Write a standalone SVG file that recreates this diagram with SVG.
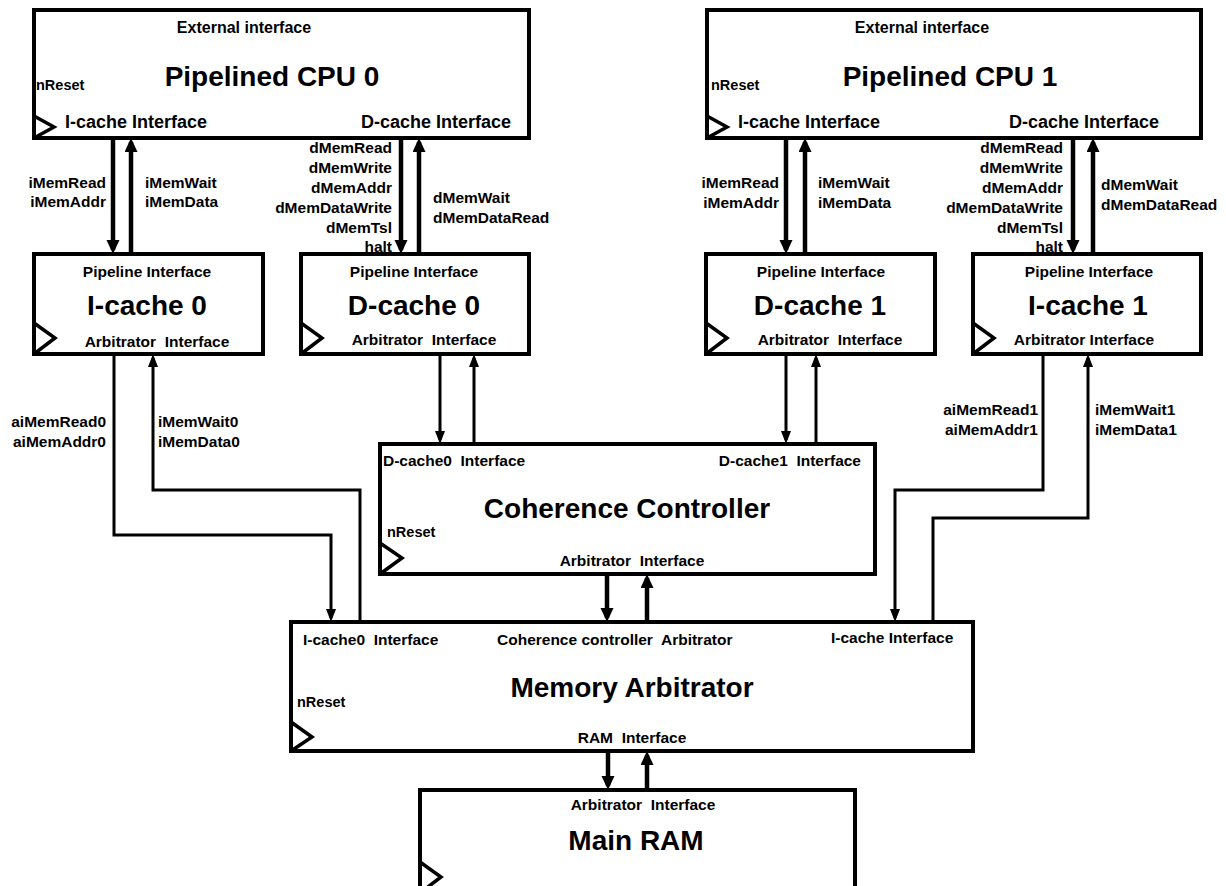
<svg xmlns="http://www.w3.org/2000/svg" width="1226" height="886" viewBox="0 0 1226 886">
<style>
.box{fill:#fff;stroke:#000;stroke-width:4}
.clk{fill:none;stroke:#000;stroke-width:3.5;stroke-linejoin:miter}
text{font-family:"Liberation Sans",Arial,sans-serif;font-weight:bold;fill:#000;white-space:pre}
.s{font-size:15.5px}
.m{font-size:18px}
.e{font-size:16px}
.n{font-size:14.5px}
.big{font-size:28px}
.mid{text-anchor:middle}
.end{text-anchor:end}
.thick{fill:none;stroke:#000;stroke-width:4.5}
.thin{fill:none;stroke:#000;stroke-width:3}
</style>
<defs>
<marker id="ab" markerUnits="userSpaceOnUse" markerWidth="16" markerHeight="16" refX="10" refY="6.5" orient="auto"><path d="M0,0 L14,6.5 L0,13 z" fill="#000"/></marker>
<marker id="as" markerUnits="userSpaceOnUse" markerWidth="16" markerHeight="16" refX="9" refY="5" orient="auto"><path d="M0,0 L13,5 L0,10 z" fill="#000"/></marker>
</defs>

<g id="cpu0">
<rect class="box" x="34" y="10" width="495" height="128"/>
<polyline class="clk" points="34,116 54,127 34,138"/>
<text class="e mid" x="244" y="33">External interface</text>
<text class="big mid" x="272" y="86">Pipelined CPU 0</text>
<text class="n" x="36" y="90">nReset</text>
<text class="m" x="65" y="128">I-cache Interface</text>
<text class="m end" x="511" y="128">D-cache Interface</text>
</g>

<g id="cpu1">
<rect class="box" x="707" y="10" width="494" height="128"/>
<polyline class="clk" points="707,116 727,127 707,138"/>
<text class="e mid" x="922" y="33">External interface</text>
<text class="big mid" x="950" y="86">Pipelined CPU 1</text>
<text class="n" x="711" y="90">nReset</text>
<text class="m" x="738" y="128">I-cache Interface</text>
<text class="m end" x="1159" y="128">D-cache Interface</text>
</g>

<g id="icache0">
<rect class="box" x="34" y="254" width="229" height="100"/>
<polyline class="clk" points="34,323 55,338 34,354"/>
<text class="s mid" x="147" y="277">Pipeline Interface</text>
<text class="big mid" x="147" y="315">I-cache 0</text>
<text class="s mid" x="157" y="347">Arbitrator  Interface</text>
</g>

<g id="dcache0">
<rect class="box" x="301" y="254" width="228" height="100"/>
<polyline class="clk" points="301,323 322,338 301,354"/>
<text class="s mid" x="414" y="277">Pipeline Interface</text>
<text class="big mid" x="414" y="315">D-cache 0</text>
<text class="s mid" x="424" y="345">Arbitrator  Interface</text>
</g>

<g id="dcache1">
<rect class="box" x="706" y="254" width="229" height="100"/>
<polyline class="clk" points="706,323 727,338 706,354"/>
<text class="s mid" x="821" y="277">Pipeline Interface</text>
<text class="big mid" x="820" y="315">D-cache 1</text>
<text class="s mid" x="830" y="345">Arbitrator  Interface</text>
</g>

<g id="icache1">
<rect class="box" x="973" y="254" width="228" height="100"/>
<polyline class="clk" points="973,323 994,338 973,354"/>
<text class="s mid" x="1089" y="277">Pipeline Interface</text>
<text class="big mid" x="1088" y="315">I-cache 1</text>
<text class="s mid" x="1084" y="345">Arbitrator Interface</text>
</g>

<g id="coherence">
<rect class="box" x="380" y="444" width="495" height="130"/>
<polyline class="clk" points="380,543 402,558 380,574"/>
<text class="s" x="383" y="466">D-cache0  Interface</text>
<text class="s end" x="861" y="466">D-cache1  Interface</text>
<text class="big mid" x="627" y="518">Coherence Controller</text>
<text class="n" x="387" y="537">nReset</text>
<text class="s mid" x="632" y="566">Arbitrator  Interface</text>
</g>

<g id="arbiter">
<rect class="box" x="291" y="622" width="682" height="129"/>
<polyline class="clk" points="291,722 312,737 291,751"/>
<text class="s" x="303" y="645">I-cache0  Interface</text>
<text class="s" x="497" y="645">Coherence controller  Arbitrator</text>
<text class="s" x="831" y="643">I-cache Interface</text>
<text class="big mid" x="632" y="697">Memory Arbitrator</text>
<text class="n" x="297" y="707">nReset</text>
<text class="s mid" x="632" y="743">RAM  Interface</text>
</g>

<g id="ram">
<rect class="box" x="420" y="790" width="435" height="103"/>
<polyline class="clk" points="420,862 441,877 420,893"/>
<text class="s mid" x="643" y="810">Arbitrator  Interface</text>
<text class="big mid" x="636" y="850">Main RAM</text>
</g>

<g id="connectors">
<path class="thick" d="M113,138 V250" marker-end="url(#ab)"/>
<path class="thick" d="M131,254 V142" marker-end="url(#ab)"/>
<path class="thick" d="M401,138 V250" marker-end="url(#ab)"/>
<path class="thick" d="M419,254 V142" marker-end="url(#ab)"/>
<path class="thick" d="M786,138 V250" marker-end="url(#ab)"/>
<path class="thick" d="M805,254 V142" marker-end="url(#ab)"/>
<path class="thick" d="M1073,138 V250" marker-end="url(#ab)"/>
<path class="thick" d="M1093,254 V142" marker-end="url(#ab)"/>
<path class="thin" d="M114,354 V535 H331 V618" marker-end="url(#as)"/>
<path class="thin" d="M360,622 V490 H153 V358" marker-end="url(#as)"/>
<path class="thin" d="M440,354 V440" marker-end="url(#as)"/>
<path class="thin" d="M474,444 V358" marker-end="url(#as)"/>
<path class="thin" d="M786,354 V440" marker-end="url(#as)"/>
<path class="thin" d="M816,444 V358" marker-end="url(#as)"/>
<path class="thin" d="M1043,354 V490 H895 V618" marker-end="url(#as)"/>
<path class="thin" d="M933,622 V518 H1088 V358" marker-end="url(#as)"/>
<path class="thick" d="M607,574 V618" marker-end="url(#ab)"/>
<path class="thick" d="M647,622 V578" marker-end="url(#ab)"/>
<path class="thick" d="M608,751 V786" marker-end="url(#ab)"/>
<path class="thick" d="M647,790 V755" marker-end="url(#ab)"/>
</g>

<g id="signal-labels">
<text class="s end" x="106" y="188">iMemRead</text>
<text class="s end" x="106" y="207">iMemAddr</text>
<text class="s" x="145" y="188">iMemWait</text>
<text class="s" x="145" y="207">iMemData</text>
<text class="s end" x="392" y="153">dMemRead</text>
<text class="s end" x="392" y="173">dMemWrite</text>
<text class="s end" x="392" y="193">dMemAddr</text>
<text class="s end" x="392" y="213">dMemDataWrite</text>
<text class="s end" x="392" y="233">dMemTsl</text>
<text class="s end" x="392" y="252">halt</text>
<text class="s" x="433" y="203">dMemWait</text>
<text class="s" x="433" y="223">dMemDataRead</text>
<text class="s end" x="779" y="188">iMemRead</text>
<text class="s end" x="779" y="208">iMemAddr</text>
<text class="s" x="818" y="188">iMemWait</text>
<text class="s" x="818" y="208">iMemData</text>
<text class="s end" x="1063" y="153">dMemRead</text>
<text class="s end" x="1063" y="173">dMemWrite</text>
<text class="s end" x="1063" y="193">dMemAddr</text>
<text class="s end" x="1063" y="213">dMemDataWrite</text>
<text class="s end" x="1063" y="233">dMemTsl</text>
<text class="s end" x="1063" y="252">halt</text>
<text class="s" x="1101" y="190">dMemWait</text>
<text class="s" x="1101" y="210">dMemDataRead</text>
<text class="s end" x="106" y="427">aiMemRead0</text>
<text class="s end" x="106" y="447">aiMemAddr0</text>
<text class="s" x="158" y="427">iMemWait0</text>
<text class="s" x="158" y="447">iMemData0</text>
<text class="s end" x="1038" y="415">aiMemRead1</text>
<text class="s end" x="1038" y="435">aiMemAddr1</text>
<text class="s" x="1095" y="415">iMemWait1</text>
<text class="s" x="1095" y="435">iMemData1</text>
</g>
</svg>
